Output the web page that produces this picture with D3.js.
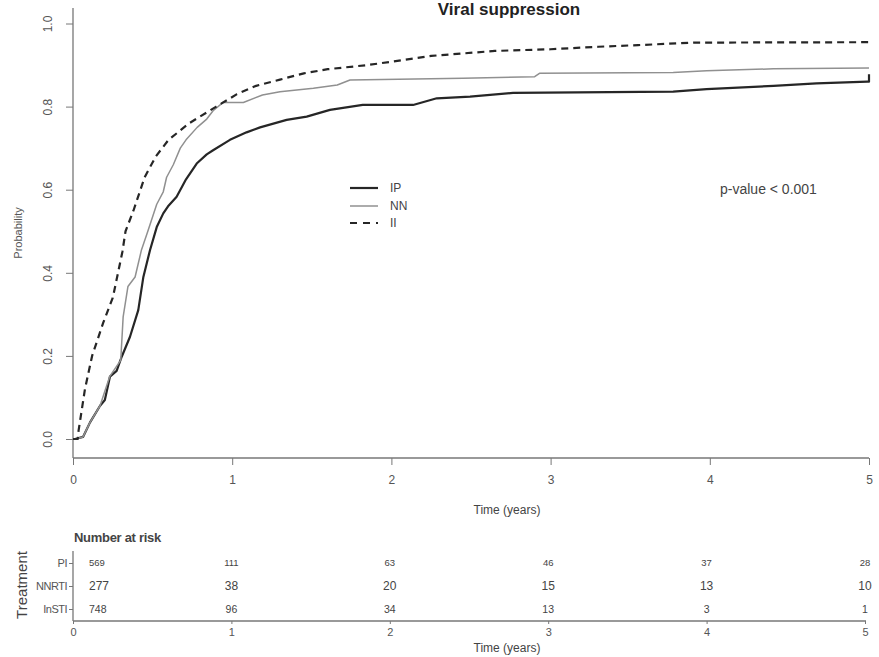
<!DOCTYPE html>
<html><head><meta charset="utf-8">
<script src="https://cdn.jsdelivr.net/npm/d3@7"></script>
<style>
html,body{margin:0;padding:0;background:#fff;}
text{font-family:"Liberation Sans",Arial,sans-serif;}
</style></head>
<body>
<svg id="c" width="879" height="657"></svg>
<script>
// ---- data ----
const seriesNames = ["IP", "NN", "II"];
const ipCurve = [[0,0],[0.013,0],[0.063,0.005],[0.107,0.04],[0.17,0.08],[0.2,0.094],[0.232,0.15],[0.274,0.164],[0.306,0.198],[0.358,0.246],[0.41,0.31],[0.442,0.39],[0.484,0.455],[0.526,0.51],[0.567,0.543],[0.597,0.56],[0.651,0.583],[0.71,0.625],[0.777,0.663],[0.84,0.685],[0.88,0.695],[0.986,0.72],[1.09,0.738],[1.175,0.75],[1.342,0.768],[1.468,0.776],[1.614,0.792],[1.82,0.804],[2.136,0.804],[2.285,0.82],[2.494,0.824],[2.764,0.833],[3.77,0.836],[3.98,0.842],[4.4,0.85],[4.67,0.856],[4.99,0.86],[5.0,0.86],[5.0,0.878]];
const nnCurve = [[0,0],[0.013,0],[0.063,0.005],[0.107,0.04],[0.17,0.08],[0.23,0.15],[0.3,0.19],[0.315,0.294],[0.345,0.367],[0.39,0.39],[0.43,0.455],[0.47,0.5],[0.526,0.565],[0.567,0.595],[0.588,0.63],[0.63,0.66],[0.674,0.70],[0.71,0.72],[0.78,0.75],[0.84,0.77],[0.88,0.79],[0.943,0.81],[1.07,0.81],[1.19,0.828],[1.30,0.836],[1.51,0.844],[1.66,0.852],[1.74,0.864],[2.45,0.868],[2.9,0.872],[2.93,0.88],[3.77,0.882],[3.98,0.886],[4.4,0.891],[5.0,0.893]];
const iiCurve = [[0,0],[0.03,0],[0.035,0.02],[0.075,0.12],[0.12,0.20],[0.19,0.28],[0.25,0.34],[0.31,0.45],[0.33,0.50],[0.38,0.55],[0.45,0.63],[0.52,0.68],[0.60,0.72],[0.73,0.76],[0.90,0.80],[1.03,0.83],[1.15,0.85],[1.3,0.865],[1.45,0.88],[1.6,0.89],[1.85,0.90],[2.0,0.908],[2.25,0.922],[2.45,0.928],[2.65,0.934],[3.0,0.938],[3.3,0.944],[3.55,0.948],[3.9,0.954],[5.0,0.955]];
const xTicks = [0,1,2,3,4,5];
const yTicks = [0.0,0.2,0.4,0.6,0.8,1.0];
const riskGroups = ["PI", "NNRTI", "InSTI"];
const riskPI = [569,111,63,46,37,28];
const riskNNRTI = [277,38,20,15,13,10];
const riskInSTI = [748,96,34,13,3,1];

// ---- drawing ----
const svg = d3.select("#c");
const x = d3.scaleLinear().domain([0,5]).range([73,869]);
const y = d3.scaleLinear().domain([0,1]).range([439,23.5]);
const grey = "#555";

// title
svg.append("text").attr("x",509).attr("y",15).attr("text-anchor","middle")
  .attr("font-size",17).attr("font-weight","bold").attr("fill","#222").text("Viral suppression");

// axes (L-shaped box)
svg.append("line").attr("x1",73).attr("x2",73).attr("y1",8).attr("y2",458).attr("stroke","#777").attr("stroke-width",1.3);
svg.append("line").attr("x1",73).attr("x2",869).attr("y1",458).attr("y2",458).attr("stroke","#777").attr("stroke-width",1.3);

const yAxis = svg.append("g").attr("transform","translate(73,0)")
  .call(d3.axisLeft(y).tickValues(yTicks).tickSize(7).tickFormat(d3.format(".1f")));
yAxis.select(".domain").remove();
yAxis.selectAll("line").attr("stroke","#777");
yAxis.selectAll("text").attr("transform","rotate(-90, -25, 0)")
  .attr("x",-25).attr("y",0).attr("dy","0.35em").attr("text-anchor","middle")
  .attr("font-size",12).attr("fill",grey).attr("font-family","Liberation Sans, Arial, sans-serif");

const xAxis = svg.append("g").attr("transform","translate(0,458)")
  .call(d3.axisBottom(x).tickValues(xTicks).tickSize(7).tickFormat(d3.format("d")));
xAxis.select(".domain").remove();
xAxis.selectAll("line").attr("stroke","#777");
xAxis.selectAll("text").attr("y",17).attr("font-size",12).attr("fill",grey)
  .attr("font-family","Liberation Sans, Arial, sans-serif");

svg.append("text").attr("x",507).attr("y",514).attr("text-anchor","middle")
  .attr("font-size",12).attr("fill","#444").text("Time (years)");
svg.append("text").attr("transform","translate(22,233) rotate(-90)").attr("text-anchor","middle")
  .attr("font-size",11).attr("fill",grey).text("Probability");

// curves
const line = d3.line().x(d=>x(d[0])).y(d=>y(d[1])).curve(d3.curveLinear);
const styles = {
  IP:{data:ipCurve, stroke:"#262626", w:2.2, dash:null},
  NN:{data:nnCurve, stroke:"#909090", w:1.5, dash:null},
  II:{data:iiCurve, stroke:"#262626", w:2.2, dash:"7,5"}
};
seriesNames.forEach(n=>{
  const s = styles[n];
  svg.append("path").datum(s.data).attr("d",line).attr("fill","none")
    .attr("stroke",s.stroke).attr("stroke-width",s.w).attr("stroke-dasharray",s.dash)
    .attr("stroke-linejoin","round");
});

// legend
const legY = [188,206,223];
seriesNames.forEach((n,i)=>{
  const s = styles[n];
  svg.append("line").attr("x1",350).attr("x2",378).attr("y1",legY[i]).attr("y2",legY[i])
    .attr("stroke",s.stroke).attr("stroke-width",s.w).attr("stroke-dasharray",n==="II"?"7,6":null);
  svg.append("text").attr("x",390).attr("y",legY[i]).attr("dy","0.35em")
    .attr("font-size",12).attr("fill","#444").text(n);
});

svg.append("text").attr("x",720).attr("y",189).attr("dy","0.35em")
  .attr("font-size",14).attr("fill","#444").text("p-value < 0.001");

// risk table
const tx = d3.scaleLinear().domain([0,5]).range([73,865]);
const rowY = d3.scalePoint().domain(riskGroups).range([563,609]);
svg.append("text").attr("x",74).attr("y",542).attr("font-size",13).attr("font-weight","bold")
  .attr("fill","#444").attr("font-family","DejaVu Sans, sans-serif").attr("letter-spacing","-0.3").text("Number at risk");
svg.append("line").attr("x1",73).attr("x2",73).attr("y1",551).attr("y2",621).attr("stroke","#777").attr("stroke-width",1.3);
svg.append("line").attr("x1",73).attr("x2",866).attr("y1",621).attr("y2",621).attr("stroke","#777").attr("stroke-width",1.3);

const rAxisL = svg.append("g").attr("transform","translate(73,0)")
  .call(d3.axisLeft(rowY).tickSize(4));
rAxisL.select(".domain").remove();
rAxisL.selectAll("line").attr("stroke","#777");
rAxisL.selectAll("text").attr("x",-6).attr("font-size",11).attr("fill",grey)
  .attr("font-family","Liberation Sans, Arial, sans-serif").attr("letter-spacing","-0.5");

const rAxisB = svg.append("g").attr("transform","translate(0,621)")
  .call(d3.axisBottom(tx).tickValues(xTicks).tickSize(3).tickFormat(d3.format("d")));
rAxisB.select(".domain").remove();
rAxisB.selectAll("line").attr("stroke","#777");
rAxisB.selectAll("text").attr("y",7).attr("font-size",11).attr("fill",grey)
  .attr("font-family","Liberation Sans, Arial, sans-serif");

svg.append("text").attr("x",507).attr("y",652).attr("text-anchor","middle")
  .attr("font-size",12).attr("fill","#444").text("Time (years)");
svg.append("text").attr("transform","translate(27,585) rotate(-90)").attr("text-anchor","middle")
  .attr("font-size",15).attr("fill","#444").text("Treatment");

const riskRows = [riskPI, riskNNRTI, riskInSTI];
const rowFont = [9.5, 12, 10.5];
riskRows.forEach((vals,ri)=>{
  vals.forEach((v,i)=>{
    svg.append("text")
      .attr("x", i===0 ? 89 : tx(xTicks[i]))
      .attr("y", rowY(riskGroups[ri])).attr("dy","0.35em")
      .attr("text-anchor", i===0 ? "start" : "middle")
      .attr("font-size", rowFont[ri]).attr("fill","#444").text(v);
  });
});
</script>
</body></html>
